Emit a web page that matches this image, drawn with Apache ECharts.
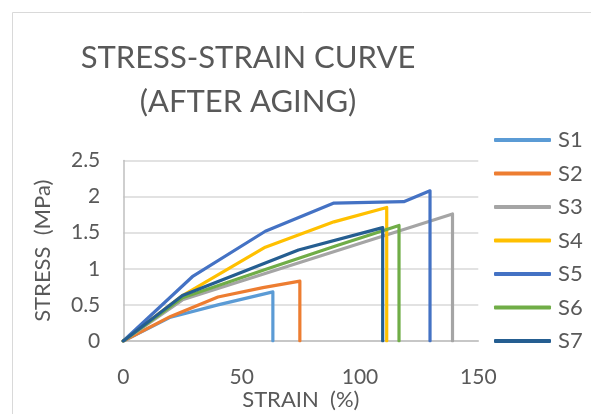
<!DOCTYPE html>
<html><head><meta charset="utf-8">
<script src="https://cdn.jsdelivr.net/npm/echarts@6/dist/echarts.min.js"></script>
<style>html,body{margin:0;padding:0;background:#fff}#c{width:591px;height:414px}</style>
</head><body><div id="c"></div>
<script>
const seriesNames = ['S1','S2','S3','S4','S5','S6','S7'];
const colors = ['#5B9BD5','#ED7D31','#A5A5A5','#FFC000','#4472C4','#70AD47','#255E91'];
const S1 = [[0,0],[20,0.33],[40,0.5],[63.2,0.68],[63.2,0]];
const S2 = [[0,0],[20,0.34],[40,0.61],[59,0.74],[74.6,0.83],[74.6,0]];
const S3 = [[0,0],[25,0.57],[139.1,1.76],[139.1,0]];
const S4 = [[0,0],[25,0.63],[60,1.30],[89,1.65],[111.3,1.85],[111.3,0]];
const S5 = [[0,0],[29.5,0.9],[60,1.52],[89,1.91],[118.5,1.93],[129.6,2.08],[129.6,0]];
const S6 = [[0,0],[25,0.6],[60,0.99],[90,1.32],[116.5,1.6],[116.5,0]];
const S7 = [[0,0],[25,0.63],[74,1.26],[109.6,1.57],[109.6,0]];
const allData = [S1,S2,S3,S4,S5,S6,S7];
const xTicks = [0,50,100,150];
const yTicks = [0,0.5,1,1.5,2,2.5];
const titleText = 'STRESS-STRAIN CURVE\n(AFTER AGING)';
const xName = 'STRAIN  (%)';
const yName = 'STRESS  (MPa)';

const font = 'Lato, Carlito, "Open Sans", sans-serif';
const chart = echarts.init(document.getElementById('c'), null, {renderer:'canvas'});
chart.setOption({
  animation:false,
  backgroundColor:'#fff',
  graphic:[{type:'rect', shape:{x:12.5,y:12.5,width:700,height:600}, style:{fill:'none',stroke:'#D9D9D9',lineWidth:1}, silent:true, z:-1}],
  title:{text:titleText, left:243, top:31, textAlign:'center',
    textStyle:{fontFamily:font, fontSize:31, fontWeight:'normal', color:'#595959', lineHeight:44}},
  legend:{orient:'vertical', left:489, top:123, itemWidth:57, itemHeight:4, itemGap:9.5, icon:'roundRect',
    data:seriesNames,
    textStyle:{fontFamily:font, fontSize:22, color:'#595959', lineHeight:24, padding:[0,0,0,2]}},
  grid:{left:123.3, right:591-478.3, top:160.5, bottom:414-341, containLabel:false, outerBoundsMode:'none'},
  xAxis:{type:'value', min:xTicks[0], max:xTicks[xTicks.length-1], interval:50,
    name:xName, nameLocation:'middle', nameGap:47,
    nameTextStyle:{fontFamily:font, fontSize:22, color:'#595959'},
    axisLine:{show:true, onZero:false, lineStyle:{color:'#BFBFBF', width:1.5}},
    axisTick:{show:false},
    axisLabel:{fontFamily:font, fontSize:21, color:'#595959', margin:26},
    splitLine:{show:false}},
  yAxis:{type:'value', min:yTicks[0], max:yTicks[yTicks.length-1], interval:0.5,
    name:yName, nameLocation:'middle', nameGap:69,
    nameTextStyle:{fontFamily:font, fontSize:22, color:'#595959'},
    axisLine:{show:true, lineStyle:{color:'#BFBFBF', width:1.5}},
    axisTick:{show:false},
    axisLabel:{fontFamily:font, fontSize:21, color:'#595959', margin:23},
    splitLine:{show:true, lineStyle:{color:'#D9D9D9', width:1.5}}},
  series: seriesNames.map((n,i)=>({name:n, type:'line', data:allData[i], symbol:'none', smooth:false,
    lineStyle:{color:colors[i], width:3.2, cap:'round', join:'round'}, itemStyle:{color:colors[i]}}))
});
</script></body></html>
